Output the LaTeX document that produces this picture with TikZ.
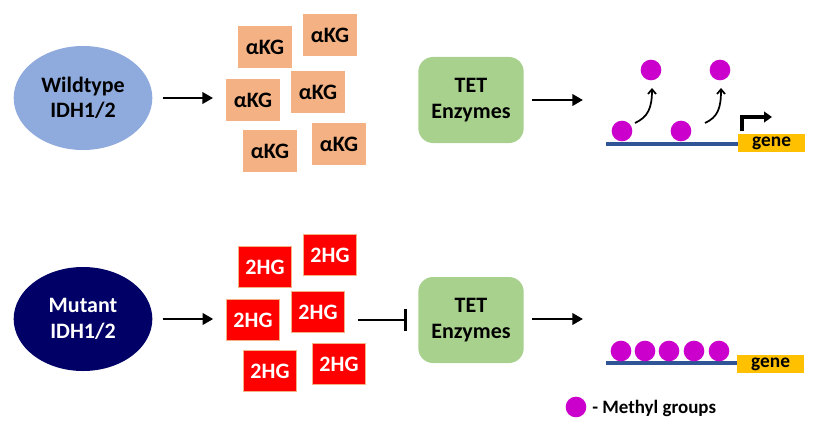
\documentclass[tikz,border=0pt]{standalone}
\usepackage{fontspec}
\setmainfont{Carlito}
\usetikzlibrary{arrows.meta,shapes.geometric}
\definecolor{wtblue}{HTML}{8FAADC}
\definecolor{navy}{HTML}{000066}
\definecolor{kgfill}{HTML}{F4B183}
\definecolor{tetgreen}{HTML}{A9D18E}
\definecolor{methyl}{HTML}{CC00CC}
\definecolor{dna}{HTML}{2F5597}
\definecolor{genefill}{HTML}{FFC000}
\definecolor{hgred}{HTML}{FF0000}
\tikzset{
  lbl/.style={font=\fontsize{16.5}{19}\selectfont\bfseries},
  enzyme/.style={ellipse, minimum width=104pt, minimum height=78pt, inner sep=0pt, align=center, lbl},
  kg/.style={rectangle, fill=kgfill, minimum width=40.5pt, minimum height=31pt, inner sep=0pt, lbl},
  hg/.style={rectangle, fill=hgred, draw=kgfill, line width=0.6pt, minimum width=40pt, minimum height=30.5pt, inner sep=0pt, lbl, text=white},
  tet/.style={rectangle, rounded corners=11pt, fill=tetgreen, minimum width=79pt, minimum height=64.5pt, inner sep=0pt, align=center, lbl},
  meth/.style={circle, fill=methyl, minimum size=15.5pt, inner sep=0pt},
  genebox/.style={rectangle, fill=genefill, minimum width=50pt, minimum height=13.5pt, inner sep=0pt, font=\fontsize{14.5}{16}\selectfont\bfseries},
  legtext/.style={font=\fontsize{14.2}{16}\selectfont\bfseries},
  dnaline/.style={draw=dna, line width=2.4pt},
  arr/.style={-{Triangle[length=8pt,width=8.5pt]}, line width=2.2pt},
  thinarr/.style={-{Straight Barb[length=3.5pt,width=6pt]}, line width=1.3pt},
}
\begin{document}
\begin{tikzpicture}[x=0.75pt,y=-0.75pt]
\useasboundingbox (0,0) rectangle (816,435);
% ---------- top row ----------
\node[enzyme, fill=wtblue] (wt) at (83,98) {Wildtype\\IDH1/2};
\node[kg] (k1) at (265,47) {αKG};
\node[kg] (k2) at (330,35) {αKG};
\node[kg] (k3) at (253,100) {αKG};
\node[kg] (k4) at (318,92) {αKG};
\node[kg] (k5) at (270,151) {αKG};
\node[kg] (k6) at (339,144) {αKG};
\node[tet] (tt) at (471,100) {TET\\Enzymes};
\draw[arr, shorten <=7.5pt, shorten >=9.5pt] (wt.east) -- (wt.east -| k3.west);
\coordinate (tte) at (583,100);
\draw[arr, shorten <=6pt] (tt.east |- tte) -- (tte);
% DNA top
\coordinate (dl1) at (606,144);
\node[genebox, anchor=west] (g1) at (738,143) {gene};
\draw[dnaline] (dl1) -- (g1.west |- dl1);
\node[meth] (m1) at (622,131) {};
\node[meth] (m2) at (681,131) {};
\node[meth] (m3) at (651,70) {};
\node[meth] (m4) at (720,70) {};
\coordinate (c1s) at (635,123);
\coordinate (c1e) at (652,88);
\coordinate (c2s) at (705,123);
\coordinate (c2e) at (721,88);
\draw[thinarr] (c1s) .. controls (648,117) and (652,108) .. (c1e);
\draw[thinarr] (c2s) .. controls (718,117) and (721,108) .. (c2e);
\coordinate (b0) at (742,131);
\coordinate (b1) at (742,117);
\coordinate (b2) at (772,117);
\draw[line width=2.8pt, -{Triangle[length=6pt,width=8pt]}] (b0) -- (b1) -- (b2);
% ---------- bottom row ----------
\node[enzyme, fill=navy, text=white] (mu) at (83,319) {Mutant\\IDH1/2};
\node[hg] (h1) at (265,267) {2HG};
\node[hg] (h2) at (330,255) {2HG};
\node[hg] (h3) at (253,320) {2HG};
\node[hg] (h4) at (318,312) {2HG};
\node[hg] (h5) at (270,371) {2HG};
\node[hg] (h6) at (339,364) {2HG};
\node[tet] (tb) at (471,320) {TET\\Enzymes};
\draw[arr, shorten <=7.5pt, shorten >=9.5pt] (mu.east) -- (mu.east -| h3.west);
\draw[-{Bar[width=17pt]}, line width=2.2pt, shorten <=9.5pt, shorten >=8pt] (h4.east |- tb.west) -- (tb.west);
\coordinate (tbe) at (583,319);
\draw[arr, shorten <=6pt] (tb.east |- tbe) -- (tbe);
% DNA bottom
\coordinate (dl2) at (606,363);
\node[genebox, anchor=west] (g2) at (737,364) {gene};
\draw[dnaline] (dl2) -- (g2.west |- dl2);
\node[meth] (n1) at (621,351) {};
\node[meth] (n2) at (645,351) {};
\node[meth] (n3) at (669,351) {};
\node[meth] (n4) at (694,351) {};
\node[meth] (n5) at (719,351) {};
% legend
\node[meth] (lg) at (576,407) {};
\node[legtext, anchor=west, inner sep=0pt] (lgt) at (592,408) {- Methyl groups};
\end{tikzpicture}
\end{document}
